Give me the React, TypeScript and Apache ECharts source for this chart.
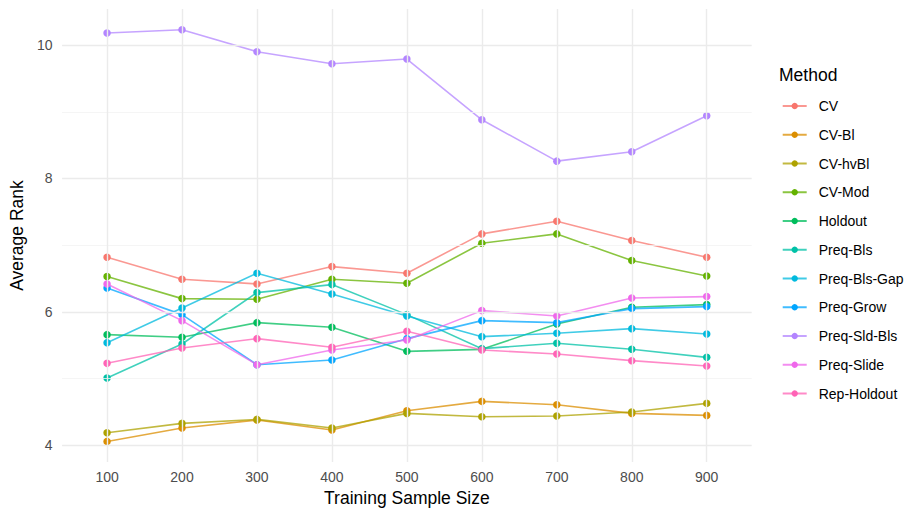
import React, { useEffect, useRef } from "react";
import * as echarts from "echarts";

const sampleSizes = [100, 200, 300, 400, 500, 600, 700, 800, 900];
const methods = ["CV", "CV-Bl", "CV-hvBl", "CV-Mod", "Holdout", "Preq-Bls", "Preq-Bls-Gap", "Preq-Grow", "Preq-Sld-Bls", "Preq-Slide", "Rep-Holdout"];
const colors = ["#F8766D", "#DB8E00", "#AEA200", "#64B200", "#00BD5C", "#00C1A7", "#00BADE", "#00A6FF", "#B385FF", "#EF67EB", "#FF63B6"];

const cv = [6.82, 6.49, 6.42, 6.68, 6.58, 7.17, 7.36, 7.07, 6.82];
const cvBl = [4.06, 4.26, 4.38, 4.23, 4.52, 4.66, 4.61, 4.48, 4.45];
const cvHvBl = [4.19, 4.33, 4.39, 4.26, 4.48, 4.43, 4.44, 4.5, 4.63];
const cvMod = [6.53, 6.2, 6.19, 6.49, 6.43, 7.03, 7.17, 6.77, 6.54];
const holdout = [5.66, 5.62, 5.84, 5.77, 5.41, 5.44, 5.82, 6.07, 6.11];
const preqBls = [5.01, 5.52, 6.29, 6.41, 5.96, 5.45, 5.53, 5.44, 5.32];
const preqBlsGap = [5.54, 6.06, 6.58, 6.27, 5.94, 5.63, 5.68, 5.75, 5.67];
const preqGrow = [6.36, 5.96, 5.21, 5.28, 5.6, 5.87, 5.84, 6.05, 6.08];
const preqSldBls = [10.18, 10.23, 9.9, 9.72, 9.79, 8.88, 8.26, 8.4, 8.94];
const preqSlide = [6.42, 5.87, 5.21, 5.43, 5.58, 6.02, 5.94, 6.21, 6.23];
const repHoldout = [5.23, 5.46, 5.6, 5.47, 5.71, 5.43, 5.37, 5.27, 5.19];

const seriesValues = [cv, cvBl, cvHvBl, cvMod, holdout, preqBls, preqBlsGap, preqGrow, preqSldBls, preqSlide, repHoldout];

const yMajor = [4, 6, 8, 10];
const yMinor = [5, 7, 9];

const FONT = "Liberation Sans, Arial, sans-serif";

export default function App() {
  const ref = useRef<HTMLDivElement>(null);
  useEffect(() => {
    if (!ref.current) return;
    const chart = echarts.init(ref.current, null, { renderer: "svg" });
    const gridLines: any[] = [];
    yMinor.forEach((v) => gridLines.push({ yAxis: v, lineStyle: { color: "#F2F2F2", width: 0.8, type: "solid" } }));
    yMajor.forEach((v) => gridLines.push({ yAxis: v, lineStyle: { color: "#EBEBEB", width: 1.4, type: "solid" } }));
    sampleSizes.forEach((v) => gridLines.push({ xAxis: v, lineStyle: { color: "#EBEBEB", width: 1.4, type: "solid" } }));

    const series: any[] = [
      {
        name: "__grid",
        type: "line",
        data: [],
        z: 0,
        silent: true,
        markLine: { silent: true, symbol: "none", animation: false, label: { show: false }, data: gridLines },
      },
    ];
    methods.forEach((m, i) => {
      series.push({
        name: m,
        type: "line",
        z: 2,
        data: sampleSizes.map((x, j) => [x, seriesValues[i][j]]),
        symbol: "circle",
        symbolSize: 7.5,
        itemStyle: { color: colors[i], borderWidth: 0 },
        lineStyle: { color: colors[i], width: 1.6, opacity: 0.75 },
      });
    });

    chart.setOption({
      animation: false,
      backgroundColor: "#ffffff",
      textStyle: { fontFamily: FONT },
      grid: { left: 55.3, right: 169.3, top: 9, bottom: 43 },
      xAxis: {
        type: "value",
        min: 40,
        max: 960,
        name: "Training Sample Size",
        nameLocation: "middle",
        nameGap: 24,
        nameTextStyle: { fontSize: 17.5, color: "#000", fontFamily: FONT },
        axisLine: { show: false },
        axisTick: { show: false },
        splitLine: { show: false },
        axisLabel: { customValues: sampleSizes, color: "#4D4D4D", fontSize: 14, margin: 8, fontFamily: FONT },
      },
      yAxis: {
        type: "value",
        min: 3.75,
        max: 10.54,
        name: "Average Rank",
        nameLocation: "middle",
        nameGap: 33,
        nameRotate: 90,
        nameTextStyle: { fontSize: 17.5, color: "#000", fontFamily: FONT },
        axisLine: { show: false },
        axisTick: { show: false },
        splitLine: { show: false },
        axisLabel: { customValues: yMajor, color: "#4D4D4D", fontSize: 14, margin: 9.6, fontFamily: FONT },
      },
      legend: {
        data: methods,
        orient: "vertical",
        left: 781.7,
        top: 99,
        padding: 0,
        itemWidth: 24,
        itemHeight: 8,
        itemGap: 14.75,
        textStyle: { fontSize: 14, color: "#000", fontFamily: FONT, lineHeight: 14, padding: [0, 0, 0, 7] },
        selectedMode: false,
      },
      graphic: [
        {
          type: "text",
          left: 779,
          top: 66,
          style: { text: "Method", fontSize: 17.5, fill: "#000", fontFamily: FONT },
        },
      ],
      series,
    });
    return () => chart.dispose();
  }, []);
  return <div ref={ref} style={{ position: "absolute", left: 0, top: 0, width: 921, height: 512 }} />;
}
